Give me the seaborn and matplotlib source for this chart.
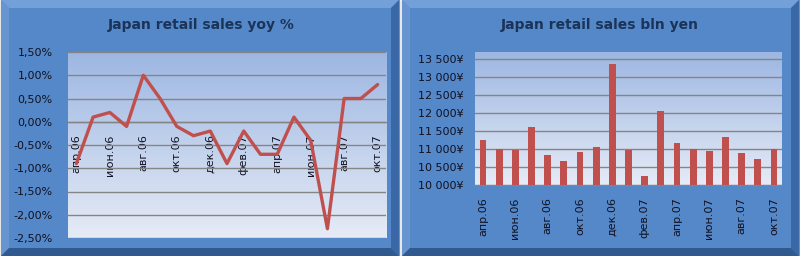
import numpy as np
import pandas as pd
import matplotlib
matplotlib.use("Agg")
import matplotlib.pyplot as plt
import seaborn as sns
from matplotlib.patches import Rectangle, Polygon
from matplotlib.colors import LinearSegmentedColormap
from matplotlib.ticker import FuncFormatter

months = ["апр.06", "май.06", "июн.06", "июл.06", "авг.06", "сен.06", "окт.06",
          "ноя.06", "дек.06", "янв.07", "фев.07", "мар.07", "апр.07", "май.07",
          "июн.07", "июл.07", "авг.07", "сен.07", "окт.07"]
yoy_pct = [-0.9, 0.1, 0.2, -0.1, 1.0, 0.5, -0.1, -0.3, -0.2, -0.9, -0.2, -0.7,
           -0.7, 0.1, -0.4, -2.3, 0.5, 0.5, 0.8]
sales_bln_yen = [11250, 10990, 10970, 11620, 10830, 10660, 10910, 11050, 13370,
                 10970, 10240, 12060, 11160, 10990, 10940, 11330, 10880, 10710, 10990]
left_title = "Japan retail sales yoy %"
right_title = "Japan retail sales bln yen"
left_yticks = [1.5, 1.0, 0.5, 0.0, -0.5, -1.0, -1.5, -2.0, -2.5]
right_yticks = [10000, 10500, 11000, 11500, 12000, 12500, 13000, 13500]

df = pd.DataFrame({"month": months, "yoy": yoy_pct, "sales": sales_bln_yen})
df["idx"] = np.arange(len(df))

sns.set_style("white")
plt.rcParams['font.family'] = ['DejaVu Sans']

W, H = 800, 256
fig = plt.figure(figsize=(8, 2.56), dpi=100)
fig.patch.set_facecolor("white")

FACE = "#5588c8"
LIGHT = "#74a0da"
DARK = "#3a67a5"
DARKER = "#30598f"
BAR = "#c0504d"
TITLE_C = "#1b3358"
TEXT_C = "#111122"
GRID = "#858585"

def px(x, y):
    return (x / W, 1 - y / H)

def panel(x0, x1, y0=0, y1=256, b=8):
    fig.patches.append(Rectangle(px(x0, y1), (x1 - x0) / W, (y1 - y0) / H,
                                 transform=fig.transFigure, facecolor=FACE,
                                 edgecolor="#8c8c8c", linewidth=1.0, zorder=0))
    top = [px(x0, y0), px(x1, y0), px(x1 - b, y0 + b), px(x0 + b, y0 + b)]
    left = [px(x0, y0), px(x0 + b, y0 + b), px(x0 + b, y1 - b), px(x0, y1)]
    right = [px(x1, y0), px(x1, y1), px(x1 - b, y1 - b), px(x1 - b, y0 + b)]
    bottom = [px(x0, y1), px(x0 + b, y1 - b), px(x1 - b, y1 - b), px(x1, y1)]
    for poly, col in [(top, LIGHT), (left, "#6894d0"), (right, DARK), (bottom, DARKER)]:
        fig.patches.append(Polygon(poly, closed=True, transform=fig.transFigure,
                                   facecolor=col, edgecolor="none", zorder=0.5))

panel(1, 399)
panel(402, 799)

grad = np.linspace(0, 1, 256).reshape(-1, 1)
cmap = LinearSegmentedColormap.from_list("pa", ["#9db7e2", "#e6ebf6"])

def make_axes(x0, y0, x1, y1):
    rect = [x0 / W, 1 - y1 / H, (x1 - x0) / W, (y1 - y0) / H]
    bg = fig.add_axes(rect, zorder=1)
    bg.imshow(grad, aspect="auto", cmap=cmap, extent=[0, 1, 0, 1])
    bg.set_axis_off()
    ax = fig.add_axes(rect, zorder=2)
    ax.set_facecolor("none")
    return ax

# ---------------- left: line chart ----------------
axL = make_axes(68, 52, 386, 238)
sns.lineplot(data=df, x="idx", y="yoy", ax=axL, color=BAR, linewidth=2.4, zorder=3)
axL.set_xlim(-0.5, len(months) - 0.5)
axL.set_ylim(-2.5, 1.5)
axL.set_yticks(left_yticks)
axL.yaxis.set_major_formatter(FuncFormatter(lambda v, p: f"{v:.2f}%".replace(".", ",")))
axL.grid(axis="y", color=GRID, linewidth=1.0, zorder=1)
axL.set_axisbelow(True)
axL.spines["bottom"].set_position(("data", 0))
for s in ["top", "right", "left"]:
    axL.spines[s].set_visible(False)
axL.spines["bottom"].set_color(GRID)
axL.spines["bottom"].set_linewidth(1.0)
axL.set_xticks(df["idx"][::2])
axL.set_xticklabels(df["month"][::2], rotation=90, va="top", ha="center")
axL.tick_params(axis="x", length=0, pad=9, labelsize=8, labelcolor=TEXT_C)
axL.tick_params(axis="y", length=0, pad=11, labelsize=8, labelcolor=TEXT_C)
axL.set_xlabel("")
axL.set_ylabel("")
fig.text(201 / W, 1 - 25 / H, left_title, ha="center", va="center",
         fontsize=10, fontweight="bold", color=TITLE_C)

# ---------------- right: bar chart ----------------
axR = make_axes(475, 52, 782, 185)
sns.barplot(data=df, x="idx", y="sales", ax=axR, color=BAR, width=0.42,
            saturation=1, edgecolor="none", linewidth=0, zorder=3)
axR.set_xlim(-0.5, len(months) - 0.5)
axR.set_ylim(10000, 13700)
axR.set_yticks(right_yticks)
axR.yaxis.set_major_formatter(FuncFormatter(
    lambda v, p: f"{int(v):,}¥".replace(",", " ")))
axR.grid(axis="y", color=GRID, linewidth=1.0, zorder=1)
axR.set_axisbelow(True)
for s in ["top", "right", "left"]:
    axR.spines[s].set_visible(False)
axR.spines["bottom"].set_color(GRID)
axR.set_xticks(df["idx"][::2])
axR.set_xticklabels(df["month"][::2], rotation=90, va="top", ha="center")
axR.tick_params(axis="x", length=0, pad=9, labelsize=8, labelcolor=TEXT_C)
axR.tick_params(axis="y", length=0, pad=8, labelsize=8, labelcolor=TEXT_C)
axR.set_xlabel("")
axR.set_ylabel("")
fig.text(600 / W, 1 - 25 / H, right_title, ha="center", va="center",
         fontsize=10, fontweight="bold", color=TITLE_C)

fig.savefig("out.png", dpi=100, facecolor=fig.get_facecolor())
